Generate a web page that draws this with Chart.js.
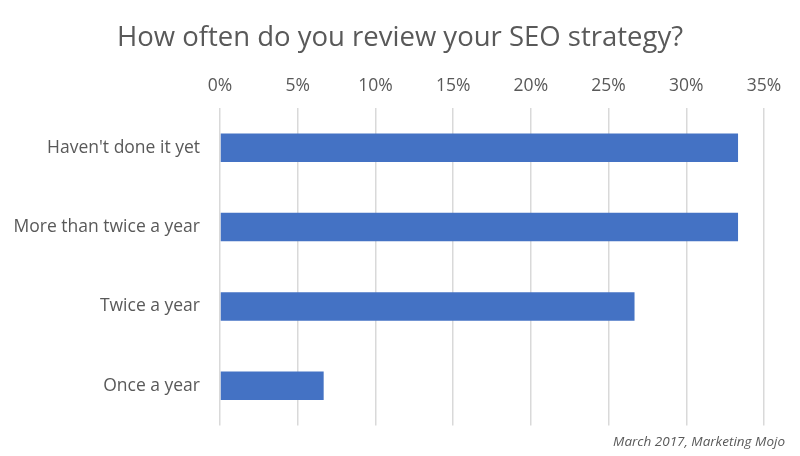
<!DOCTYPE html>
<html>
<head>
<meta charset="utf-8">
<script src="https://cdn.jsdelivr.net/npm/chart.js@4"></script>
<style>
  html, body { margin: 0; padding: 0; background: #fff; }
  #wrap { width: 800px; height: 456px; }
</style>
</head>
<body>
<div id="wrap"><canvas id="myChart"></canvas></div>
<script>
var categories = ["Haven't done it yet", "More than twice a year", "Twice a year", "Once a year"];
var shares     = [33.33, 33.33, 26.67, 6.67];
var tick_steps = [0, 5, 10, 15, 20, 25, 30, 35];
var chart_title = "How often do you review your SEO strategy?";
var source_note = "March 2017, Marketing Mojo";

var grey = "#595959";
var font_face = "'Open Sans', 'Segoe UI', sans-serif";

// title centred on the whole canvas, footnote at bottom right
var textPlugin = {
	id: 'pageText',
	afterDraw: function(chart) {
		var ctx = chart.ctx;
		ctx.save();
		ctx.fillStyle = grey;
		ctx.textBaseline = "middle";
		ctx.font = "27.5px " + font_face;
		ctx.textAlign = "center";
		ctx.fillText(chart_title, chart.width / 2, 38.5);
		ctx.font = "italic 13.5px " + font_face;
		ctx.textAlign = "right";
		ctx.fillText(source_note, 785, 442);
		ctx.restore();
	}
};

var ctx = document.getElementById("myChart");
var myChart = new Chart(ctx, {
	type: 'bar',
	data: {
		labels: categories,
		datasets: [{
			data: shares,
			backgroundColor: "#4472C4",
			categoryPercentage: 1,
			barPercentage: 0.36
		}]
	},
	options: {
		indexAxis: 'y',
		responsive: true,
		maintainAspectRatio: false,
		animation: false,
		layout: { padding: { left: 0, right: 36, top: 55, bottom: 30 } },
		plugins: {
			legend: { display: false },
			tooltip: { enabled: false },
			title: { display: false }
		},
		scales: {
			x: {
				position: 'top',
				min: 0,
				max: 35,
				afterBuildTicks: function(scale) {
					scale.ticks = tick_steps.map(function(v) { return { value: v }; });
				},
				afterFit: function(scale) { scale.height = 53; },
				ticks: {
					color: grey,
					padding: 11.5,
					font: { family: font_face, size: 17.5 },
					callback: function(v) { return v + '%'; }
				},
				grid: { color: "#d9d9d9", lineWidth: 1.5, drawTicks: false },
				border: { display: false }
			},
			y: {
				afterFit: function(scale) { scale.width = 220; },
				ticks: {
					color: grey,
					padding: 20,
					font: { family: font_face, size: 17.5 }
				},
				grid: { display: false, drawTicks: false },
				border: { display: false }
			}
		}
	},
	plugins: [textPlugin]
});
</script>
</body>
</html>
